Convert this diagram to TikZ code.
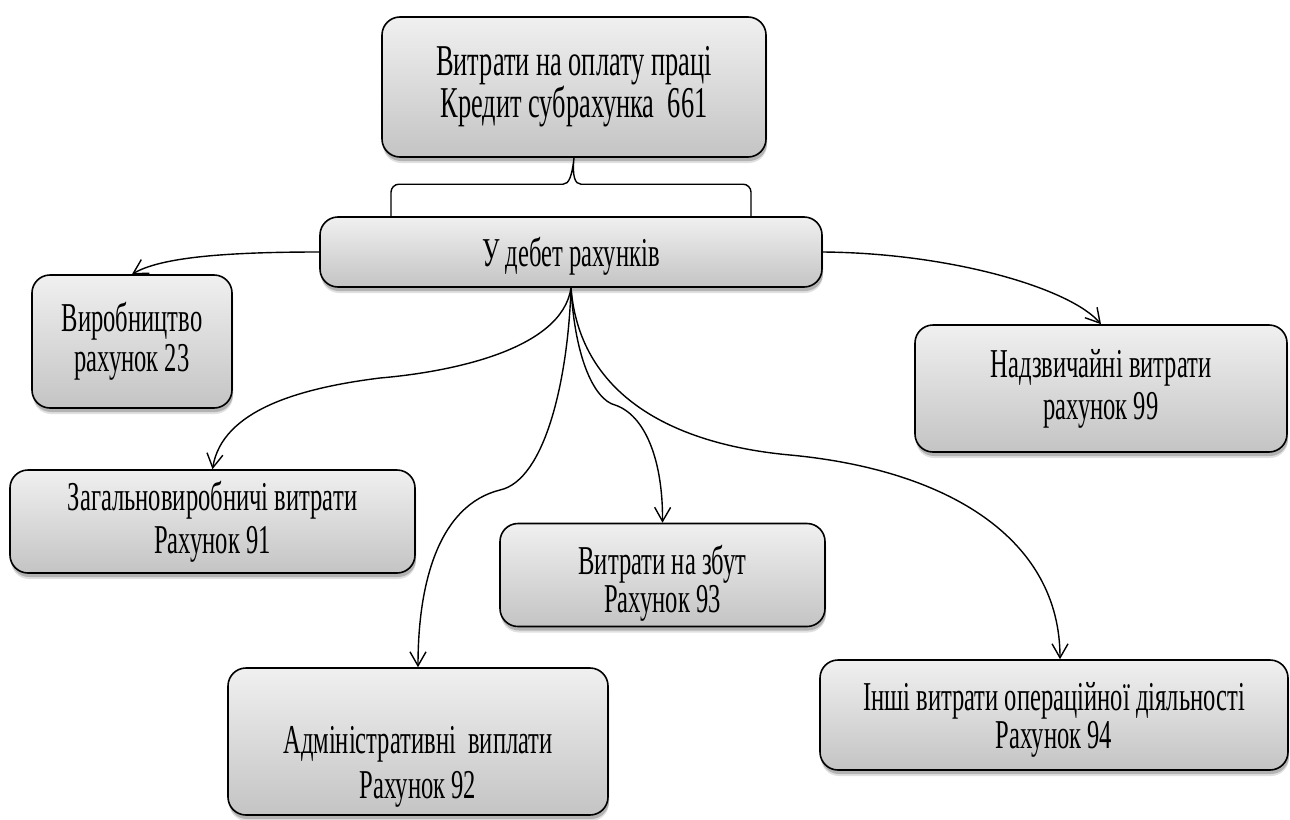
\documentclass[tikz,border=0pt]{standalone}
\usepackage{fontspec}
\setmainfont{Liberation Serif}[FakeStretch=0.6]
\usetikzlibrary{arrows.meta,shadows}

\definecolor{boxtop}{RGB}{240,240,240}
\definecolor{boxbot}{RGB}{196,196,196}

\newcommand{\boxfont}[1]{\fontsize{41}{#1}\selectfont}

\tikzset{
  acct/.style={draw=black, line width=1.6pt, rounded corners=18pt,
    top color=boxtop, bottom color=boxbot,
    drop shadow={shadow xshift=1pt, shadow yshift=-6pt, opacity=0.12, fill=black},
    drop shadow={shadow xshift=1pt, shadow yshift=-4pt, opacity=0.2, fill=black},
    align=center, inner sep=0pt, font=\boxfont{40}},
  caption/.style={align=center, inner sep=0pt, font=\boxfont{#1}},
  link/.style={line width=1.4pt, -{Straight Barb[length=14pt,width=16pt,line width=1.4pt]}},
  brace/.style={line width=1.4pt}
}

\begin{document}
\begin{tikzpicture}[x=1pt,y=-1pt]
\useasboundingbox (0,0) rectangle (1290,819);
\fill[white] (0,0) rectangle (1290,819);

% account boxes
\node[acct, minimum width=384pt, minimum height=140pt,
      font=\fontsize{44}{40}\selectfont] (top) at (574,87)
  {Витрати на оплату праці\\Кредит субрахунка~~661};
\node[acct, minimum width=502pt, minimum height=70pt,
      label={[caption=40, yshift=-4pt]center:У дебет рахунків}] (mid) at (571,252) {};
\node[acct, minimum width=200pt, minimum height=133pt] (prod) at (132,341.5)
  {Виробництво\\рахунок 23};
\node[acct, minimum width=372pt, minimum height=127pt, font=\boxfont{42}] (extra) at (1101,388.5)
  {Надзвичайні витрати\\рахунок 99};
\node[acct, minimum width=405pt, minimum height=103pt, font=\boxfont{43}] (zag) at (212.5,521.5)
  {Загальновиробничі витрати\\Рахунок 91};
\node[acct, minimum width=325pt, minimum height=103pt,
      label={[caption=38, yshift=-8pt]center:{Витрати на збут\\Рахунок 93}}] (sale) at (662.5,575) {};
\node[acct, minimum width=380pt, minimum height=147pt,
      label={[caption=45, yshift=-25pt]center:{Адміністративні~~виплати\\Рахунок 92}}] (adm) at (418,741.5) {};
\node[acct, minimum width=468pt, minimum height=110pt,
      label={[caption=38, yshift=-5pt]center:{Інші витрати операційної діяльності\\Рахунок 94}}] (other) at (1054,715) {};

% brace joining the credit box to the debit box
\coordinate (bl) at ([xshift=-180pt]mid.north);
\coordinate (br) at ([xshift=180pt]mid.north);
\draw[brace] (bl) -- ([yshift=24pt]bl) to[out=90,in=180] ([xshift=8pt,yshift=32pt]bl)
  -- ([xshift=-8pt,yshift=32pt]mid.north)
  .. controls ([xshift=-2pt,yshift=32pt]mid.north) and ([xshift=1pt,yshift=40pt]mid.north) .. (top.south)
  .. controls ([xshift=1pt,yshift=40pt]mid.north) and ([xshift=4pt,yshift=32pt]mid.north) .. ([xshift=10pt,yshift=32pt]mid.north)
  -- ([xshift=-8pt,yshift=32pt]br) to[out=0,in=90] ([yshift=24pt]br) -- (br);

% postings
\draw[link] (mid.west) .. controls (220,252) and (160,258) .. (prod.north);
\draw[link] (mid.east) .. controls (950,253) and (1070,288) .. (extra.north);
\draw[link] (mid.south) .. controls (562,350) and (450,372) .. (380,378)
  .. controls (300,388) and (222,410) .. (zag.north);
\draw[link] (mid.south) .. controls (568,380) and (545,480) .. (500,490)
  .. controls (440,505) and (418,580) .. (adm.north);
\draw[link] (mid.south) .. controls (575,360) and (595,400) .. (615,405)
  .. controls (645,415) and (663,460) .. (sale.north);
\draw[link] (mid.south) .. controls (580,400) and (680,445) .. (790,455)
  .. controls (950,470) and (1060,540) .. ([xshift=6pt]other.north);
\end{tikzpicture}
\end{document}
